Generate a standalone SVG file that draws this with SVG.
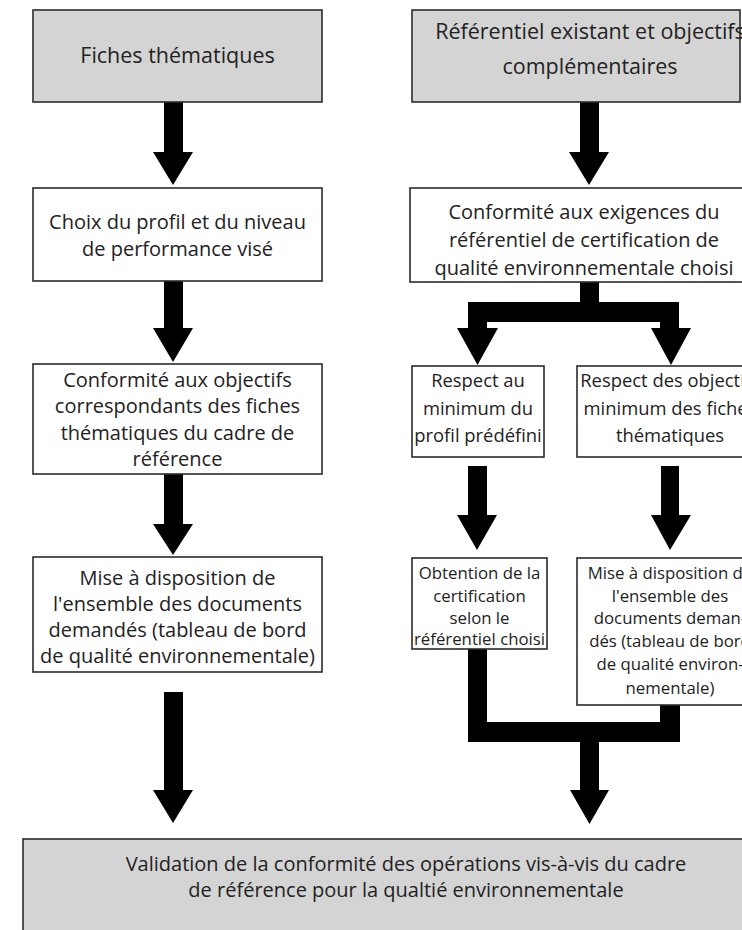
<svg xmlns="http://www.w3.org/2000/svg" width="742" height="930" viewBox="0 0 742 930">
  <style>
    .box { fill: #ffffff; stroke: #2b2b2b; stroke-width: 1.6; }
    .grey { fill: #d4d4d4; }
    .arrow { fill: #000000; }
    text { font-family: "Open Sans", "Noto Sans", "DejaVu Sans", sans-serif; fill: #222222; text-anchor: middle; }
    .t22 { font-size: 21.5px; }
    .t20 { font-size: 20px; }
    .t18 { font-size: 18.4px; }
    .t17 { font-size: 16.8px; }
  </style>
  <rect width="742" height="930" fill="#ffffff"/>

  <!-- connectors: block arrows -->
  <g id="connectors" class="arrow">
    <!-- left column -->
    <polygon points="164,102 183,102 183,152 193,152 173,185 153,152 164,152"/>
    <polygon points="164,281 183,281 183,328 193,328 173,362 153,328 164,328"/>
    <polygon points="164,474 183,474 183,524 193,524 173,555 153,524 164,524"/>
    <polygon points="164,692 183,692 183,790 193,790 173,823 153,790 164,790"/>
    <!-- right column -->
    <polygon points="580,102 599,102 599,152 609,152 589,185 569,152 580,152"/>
    <!-- split into two branches -->
    <polygon points="580,282 599,282 599,302 679,302 679,328 691,328 671,365 651,328 660,328 660,322 487,322 487,328 498,328 477.5,365 457,328 468,328 468,302 580,302"/>
    <polygon points="468,466 487,466 487,515 497,515 477,550 457,515 468,515"/>
    <polygon points="661,466 679,466 679,515 691,515 670,550 651,515 661,515"/>
    <!-- merge of the two branches -->
    <polygon points="468,649 487,649 487,722 660,722 660,705 680,705 680,742 599,742 599,790 609,790 589.5,824 570,790 580,790 580,742 468,742"/>
  </g>

  <!-- left column -->
  <g id="fiches">
    <rect class="box grey" x="33" y="10" width="289" height="92"/>
    <text class="t22" x="177.5" y="63">Fiches thématiques</text>
  </g>
  <g id="choix-profil">
    <rect class="box" x="33" y="188" width="289" height="93"/>
    <text class="t20" x="177.5" y="229">Choix du profil et du niveau</text>
    <text class="t20" x="177.5" y="256">de performance visé</text>
  </g>
  <g id="conformite-objectifs">
    <rect class="box" x="33" y="364" width="289" height="110"/>
    <text class="t20" x="177.5" y="387">Conformité aux objectifs</text>
    <text class="t20" x="177.5" y="413">correspondants des fiches</text>
    <text class="t20" x="177.5" y="440">thématiques du cadre de</text>
    <text class="t20" x="177.5" y="466">référence</text>
  </g>
  <g id="mise-disposition-gauche">
    <rect class="box" x="33" y="557" width="289" height="115"/>
    <text class="t20" x="177.5" y="585">Mise à disposition de</text>
    <text class="t20" x="177.5" y="611">l'ensemble des documents</text>
    <text class="t20" x="177.5" y="637">demandés (tableau de bord</text>
    <text class="t20" x="177.5" y="663">de qualité environnementale)</text>
  </g>

  <!-- right column -->
  <g id="referentiel">
    <rect class="box grey" x="412" y="10" width="328" height="92"/>
    <text class="t22" x="590" y="39">Référentiel existant et objectifs</text>
    <text class="t22" x="590" y="74">complémentaires</text>
  </g>
  <g id="conformite-exigences">
    <rect class="box" x="410" y="188" width="360" height="94"/>
    <text class="t20" x="584" y="219">Conformité aux exigences du</text>
    <text class="t20" x="584" y="247">référentiel de certification de</text>
    <text class="t20" x="584" y="275">qualité environnementale choisi</text>
  </g>
  <g id="respect-profil">
    <rect class="box" x="412" y="366" width="132" height="91"/>
    <text class="t18" x="478" y="387">Respect au</text>
    <text class="t18" x="478" y="415">minimum du</text>
    <text class="t18" x="478" y="442">profil prédéfini</text>
  </g>
  <g id="respect-fiches">
    <rect class="box" x="577" y="366" width="190" height="91"/>
    <text class="t18" x="670" y="387">Respect des objectifs</text>
    <text class="t18" x="670" y="415">minimum des fiches</text>
    <text class="t18" x="670" y="442">thématiques</text>
  </g>
  <g id="obtention-certification">
    <rect class="box" x="412" y="558" width="135" height="91"/>
    <text class="t17" x="479.5" y="579">Obtention de la</text>
    <text class="t17" x="479.5" y="602">certification</text>
    <text class="t17" x="479.5" y="624">selon le</text>
    <text class="t17" x="479.5" y="645">référentiel choisi</text>
  </g>
  <g id="mise-disposition-droite">
    <rect class="box" x="577" y="558" width="190" height="147"/>
    <text class="t17" x="670" y="579">Mise à disposition de</text>
    <text class="t17" x="670" y="602">l'ensemble des</text>
    <text class="t17" x="670" y="624">documents deman-</text>
    <text class="t17" x="670" y="647">dés (tableau de bord</text>
    <text class="t17" x="670" y="670">de qualité environ-</text>
    <text class="t17" x="670" y="694">nementale)</text>
  </g>

  <!-- final validation -->
  <g id="validation">
    <rect class="box grey" x="23" y="839" width="765" height="110"/>
    <text class="t20" x="406" y="871">Validation de la conformité des opérations vis-à-vis du cadre</text>
    <text class="t20" x="406" y="897">de référence pour la qualtié environnementale</text>
  </g>
</svg>
